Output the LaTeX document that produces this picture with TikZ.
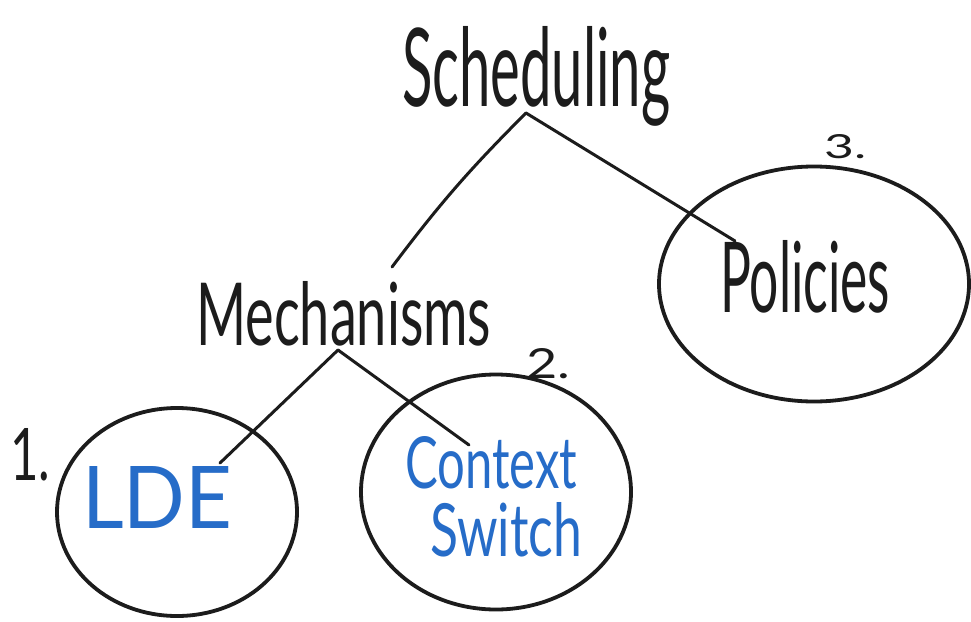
\documentclass[tikz,border=0pt]{standalone}
\usepackage{fontspec}
\setmainfont{Lato}
\usetikzlibrary{shapes.geometric}
\definecolor{ink}{RGB}{28,28,28}
\definecolor{pen}{RGB}{38,108,200}
\begin{document}
\begin{tikzpicture}[x=1pt,y=-1pt,
  word/.style={inner sep=0pt,anchor=base west,text=ink},
  blueword/.style={word,text=pen},
  loop/.style={draw=ink,line width=3.8pt,ellipse,inner sep=0pt},
  link/.style={draw=ink,line width=3pt,line cap=round}]
\useasboundingbox[fill=white] (0,0) rectangle (971,621);

% outlines around the three leaves
\node[loop,minimum width=240pt,minimum height=208pt] (ldeloop) at (177,512) {};
\node[loop,minimum width=270pt,minimum height=235pt] (ctxloop) at (496,492) {};
\node[loop,minimum width=310pt,minimum height=235pt] (polloop) at (814,284) {};

% words
\node[word] (sched) at (402,106) {\resizebox{268pt}{80pt}{Scheduling}};
\node[word] (mech) at (196,345) {\resizebox{295pt}{64pt}{Mechanisms}};
\node[word] (pol) at (720,312) {\resizebox{170pt}{72pt}{Policies}};
\node[blueword] (lde) at (82,528) {\resizebox{150pt}{62pt}{LDE}};
\node[blueword,anchor=north west,align=left] (ctx) at (405,436)
  {\resizebox{172pt}{52pt}{Context}\\[13pt]
   \hspace*{25pt}\resizebox{152pt}{54pt}{Switch}};

% item numbers
\node[word] (n1) at (10,480) {\resizebox{40pt}{52pt}{1.}};
\node[word] (n2) at (526,378) {\resizebox{44pt}{30pt}{2.}};
\node[word] (n3) at (824,158) {\resizebox{42pt}{24pt}{3.}};

% connector ends
\coordinate (schedfoot) at (526,113);
\coordinate (mechhead) at (392,267);
\coordinate (polhead) at (735,241);
\coordinate (mechfoot) at (338,350);
\coordinate (ldehead) at (220,463);
\coordinate (ctxhead) at (469,445);

\draw[link] (schedfoot) to[bend right=4] (mechhead);
\draw[link] (schedfoot) -- (polhead);
\draw[link] (mechfoot) -- (ldehead);
\draw[link] (mechfoot) -- (ctxhead);
\end{tikzpicture}
\end{document}
